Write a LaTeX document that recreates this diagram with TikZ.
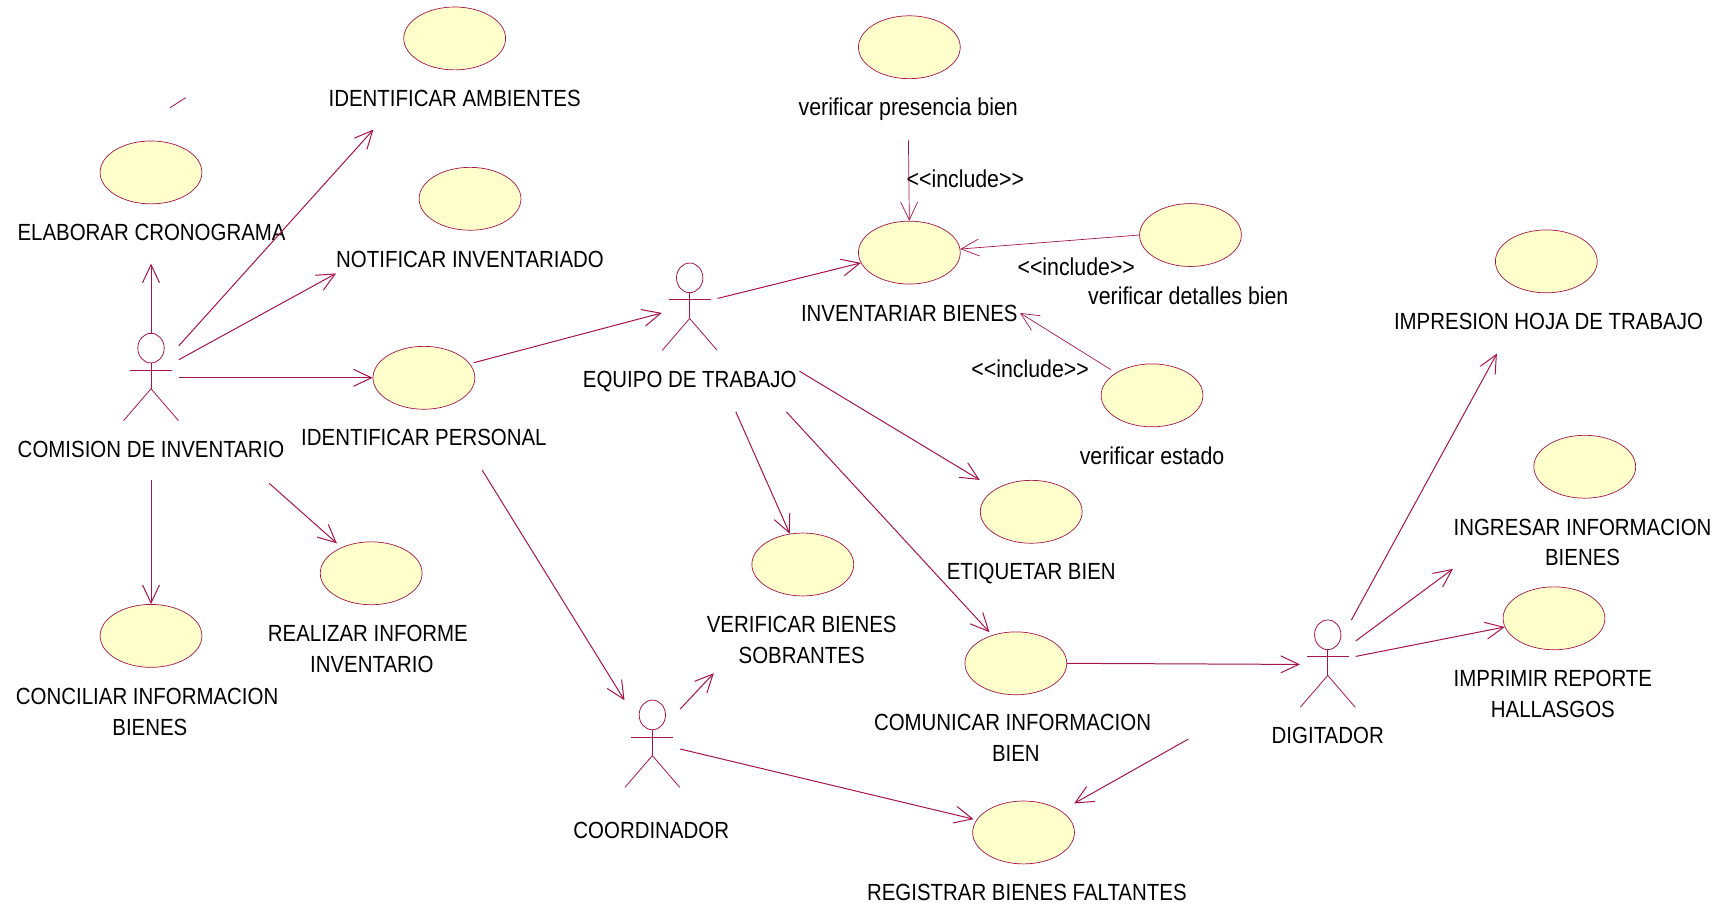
\documentclass[tikz,border=0pt]{standalone}
\usepackage{fontspec}
\setmainfont[FakeStretch=0.875]{Liberation Sans}
\usepackage{tikz}
\usetikzlibrary{shapes.geometric,arrows.meta}

\definecolor{umlline}{RGB}{165,20,75}
\definecolor{umlfill}{RGB}{255,255,204}

% stick figure, #1 name, #2 centre of the head
\newcommand{\actor}[2]{
  \begin{scope}[shift={(#2)}]
    \node[actorbox] (#1) at (0,27) {};
    \draw[figure] (0,0) ellipse [x radius=12,y radius=13.5];
    \draw[figure] (-19,20) -- (19,20);
    \draw[figure] (0,13.5) -- (0,37);
    \draw[figure] (-25,66) -- (0,37) -- (25,66);
  \end{scope}
}

\begin{document}
\begin{tikzpicture}[x=0.55pt,y=-0.55pt,
  usecase/.style={
    draw=umlline,
    fill=umlfill,
    ellipse,
    line width=0.35pt,
    inner sep=0pt,
    minimum width=51pt,
    minimum height=31.5pt
  },
  actorbox/.style={
    inner sep=0pt,
    minimum width=27.5pt,
    minimum height=44pt
  },
  figure/.style={draw=umlline,line width=0.4pt},
  txt/.style={
    align=center,
    inner sep=1pt,
    font=\fontsize{11.7}{15.4}\selectfont
  },
  lowtxt/.style={
    txt,
    font=\fontsize{12.2}{15.4}\selectfont
  },
  assoc/.style={
    draw=umlline,
    line width=0.5pt,
    -{Straight Barb[length=9pt,width=8.5pt]}
  },
  incl/.style={
    draw=umlline,
    line width=0.35pt,
    -{Straight Barb[length=9pt,width=8.5pt]}
  }]
  \useasboundingbox (0,0) rectangle (1568,825);

  % use cases
  \node[usecase] (ambientes) at (414,35) {};
  \node[usecase] (cronograma) at (137.5,157) {};
  \node[usecase] (notificar) at (428,181) {};
  \node[usecase] (personal) at (386,344) {};
  \node[usecase] (realizar) at (338,522) {};
  \node[usecase] (conciliar) at (137.5,579) {};
  \node[usecase] (presencia) at (828,43) {};
  \node[usecase] (inventariar) at (828,230) {};
  \node[usecase] (detalles) at (1084,214) {};
  \node[usecase] (estado) at (1049,360) {};
  \node[usecase] (etiquetar) at (939,466) {};
  \node[usecase] (sobrantes) at (731,514) {};
  \node[usecase] (comunicar) at (925,604) {};
  \node[usecase] (faltantes) at (932,758) {};
  \node[usecase] (impresion) at (1408,238) {};
  \node[usecase] (ingresar) at (1443,425) {};
  \node[usecase] (imprimir) at (1415,563) {};

  % actors
  \actor{comision}{137.5,317}
  \actor{trabajo}{628,253}
  \actor{coordinador}{594,651}
  \actor{digitador}{1209,578}

  % texts
  \node[txt] (ambienteslbl) at (414,90) {IDENTIFICAR AMBIENTES};
  \node[txt] (cronogramalbl) at (138,212) {ELABORAR CRONOGRAMA};
  \node[txt] (notificarlbl) at (428,236) {NOTIFICAR INVENTARIADO};
  \node[txt] (personallbl) at (386,398) {IDENTIFICAR PERSONAL};
  \node[txt] (comisionlbl) at (137.5,409) {COMISION DE INVENTARIO};
  \node[txt] (trabajolbl) at (628,347) {EQUIPO DE TRABAJO};
  \node[txt] (realizarlbl) at (335,591) {REALIZAR INFORME \\ \hspace*{3.9pt}INVENTARIO};
  \node[txt] (conciliarlbl) at (134,648) {CONCILIAR INFORMACION \\ \hspace*{2.7pt}BIENES};
  \node[txt] (sobranteslbl) at (730,583) {VERIFICAR BIENES \\ SOBRANTES};
  \node[txt] (etiquetarlbl) at (939,522) {ETIQUETAR BIEN};
  \node[txt] (comunicarlbl) at (922,672) {COMUNICAR INFORMACION \\ \hspace*{3.3pt}BIEN};
  \node[txt] (coordinadorlbl) at (593,756) {COORDINADOR};
  \node[txt] (digitadorlbl) at (1209,670) {DIGITADOR};
  \node[txt] (faltanteslbl) at (935,813) {REGISTRAR BIENES FALTANTES};
  \node[txt] (impresionlbl) at (1410,293) {IMPRESION HOJA DE TRABAJO};
  \node[txt] (ingresarlbl) at (1441,494) {INGRESAR INFORMACION \\ BIENES};
  \node[txt] (imprimirlbl) at (1414,632) {IMPRIMIR REPORTE \\ HALLASGOS};
  \node[lowtxt] (presencialbl) at (827,99) {verificar presencia bien};
  \node[lowtxt] (detalleslbl) at (1082,269) {verificar detalles bien};
  \node[lowtxt] (estadolbl) at (1049,415) {verificar estado};
  \node[txt] (inventariarlbl) at (828,285) {INVENTARIAR BIENES};
  \node[lowtxt] (inclpresencia) at (879,163) {<{}<include>{}>};
  \node[lowtxt] (incldetalles) at (980,243) {<{}<include>{}>};
  \node[lowtxt] (inclestado) at (938,336) {<{}<include>{}>};

  % free ends
  \coordinate (tipcrono) at (137.5,240);
  \coordinate (tipambientes) at (340,118);
  \coordinate (tipnotificar) at (306,249);
  \coordinate (startrealizar) at (245,440);
  \coordinate (startetiquetar) at (728,338);
  \coordinate (startsobrantes) at (670,375);
  \coordinate (startcomunicar) at (716,375);
  \coordinate (startcoordinador) at (439,428);
  \coordinate (tipsobrantes) at (650,613);
  \coordinate (startfaltantes) at (1082,673);
  \coordinate (tipimpresion) at (1363,322);
  \coordinate (tipingresar) at (1323,518);
  \coordinate (strayA) at (155,98);
  \coordinate (strayB) at (169,89);

  \draw[assoc] (comision.north) -- (tipcrono);
  \draw[assoc] (comision.49) -- (tipambientes);
  \draw[assoc] (comision.33) -- (tipnotificar);
  \draw[assoc] (comision.east) -- (personal.west);
  \draw[assoc,shorten <=10pt] (comisionlbl.south) -- (conciliar.north);
  \draw[assoc,shorten >=3pt] (startrealizar) -- (realizar.139);
  \draw[assoc,shorten <=2pt] (personal.17) -- (trabajo.191);
  \draw[assoc] (trabajo.18) -- (inventariar.192);
  \draw[assoc,shorten >=9pt] (startetiquetar) -- (etiquetar.148);
  \draw[assoc] (startsobrantes) -- (sobrantes.113);
  \draw[assoc,shorten >=2pt] (startcomunicar) -- (comunicar.130);
  \draw[assoc] (startcoordinador) -- (coordinador.north west);
  \draw[assoc] (coordinador.52) -- (tipsobrantes);
  \draw[assoc,shorten >=1.5pt] (coordinador.-9) -- (faltantes.165);
  \draw[assoc] (comunicar.east) -- (digitador.west);
  \draw[assoc,shorten >=7.5pt] (startfaltantes) -- (faltantes.30);
  \draw[assoc] (digitador.62) -- (tipimpresion);
  \draw[assoc] (digitador.40) -- (tipingresar);
  \draw[assoc] (digitador.16) -- (imprimir.190);
  \draw[incl,shorten <=9pt] (presencialbl.south) -- (inventariar.north);
  \draw[incl] (detalles.west) -- (inventariar.4);
  \draw[incl,shorten <=3pt] (estado.148) -- (inventariarlbl.east);
  \draw[figure] (strayA) -- (strayB);
\end{tikzpicture}
\end{document}
